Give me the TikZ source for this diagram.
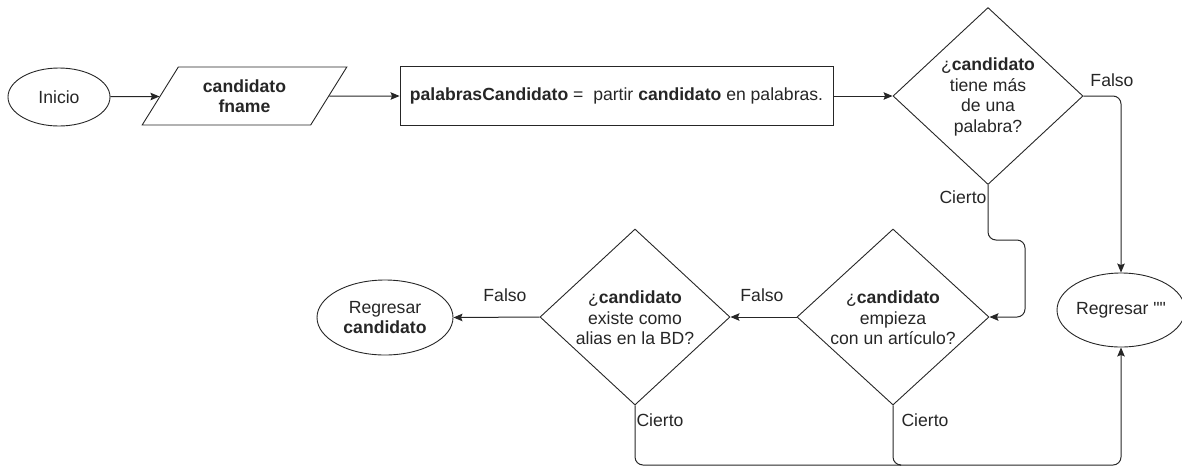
\documentclass[tikz,border=0pt]{standalone}
\usepackage{fontspec}
\setmainfont{Liberation Sans}
\newfontfamily\qfont{Liberation Sans}[Ligatures=TeXOff]
\usetikzlibrary{shapes.geometric,arrows.meta}
\tikzset{
  base/.style={draw=black!85, line width=0.9pt, inner sep=0pt, font=\fontsize{17.6}{20.5}\selectfont, text=black!85},
  term/.style={base, ellipse},
  iobox/.style={base, trapezium, trapezium left angle=55, trapezium right angle=125, trapezium stretches=true},
  procbox/.style={base, rectangle},
  decision/.style={base, diamond},
  arr/.style={draw=black!85, line width=1pt, -{Stealth[length=9pt,width=7.5pt,inset=1.5pt]}},
  lbl/.style={font=\fontsize{17.6}{20}\selectfont, text=black!85, inner sep=0pt},
  inner/.style={align=center, font=\fontsize{17.6}{20.5}\selectfont, text=black!85, inner sep=0pt}
}
\begin{document}
\begin{tikzpicture}[x=1pt,y=-1pt]
\useasboundingbox (0,0) rectangle (1182,467);
\node[term, minimum width=102, minimum height=58] (ini) at (59,97) {Inicio};
\node[iobox, minimum width=205, minimum height=58, align=center] (inp) at (244.5,96) {\textbf{candidato}\\[-1pt]\textbf{fname}};
\node[procbox, minimum width=433, minimum height=59] (proc) at (616.5,96) {\textbf{palabrasCandidato} =\ \ partir \textbf{candidato} en palabras.};
\node[decision, minimum width=190, minimum height=177] (d1) at (988,96) {};
\node[inner] (t1) at (988,97) {¿\textbf{candidato}\\tiene más\\de una\\palabra?};
\node[decision, minimum width=192, minimum height=176] (d2) at (893,317) {};
\node[inner] (t2) at (893,318) {¿\textbf{candidato}\\empieza\\con un artículo?};
\node[decision, minimum width=190, minimum height=176] (d3) at (635,317) {};
\node[inner] (t3) at (635,318) {¿\textbf{candidato}\\existe como\\alias en la BD?};
\node[term, minimum width=128, minimum height=74] (ret) at (1121,310) {Regresar {\qfont ""}};
\node[term, minimum width=136, minimum height=75, align=center] (rc) at (385,317.5) {Regresar\\\textbf{candidato}};

\draw[arr] (ini) -- (inp);
\draw[arr] (inp) -- (proc);
\draw[arr] (proc) -- (d1);
\draw[arr, rounded corners=8pt] (d1.east) -| (ret.north);
\node[lbl] (f1) at (1112,80) {Falso};
\coordinate (c1) at (1025,240);
\draw[arr, rounded corners=8pt] (d1.south) |- (c1) |- (d2.east);
\node[lbl] (v1) at (963,197) {Cierto};
\draw[arr] (d2.west) -- (d3.east);
\node[lbl] (f2) at (762,295) {Falso};
\draw[arr] (d3.west) -- (rc.east);
\node[lbl] (f3) at (505,295) {Falso};
\coordinate (b1) at (900,465);
\draw[arr, rounded corners=8pt] (d3.south) |- (b1) -| (ret.south);
\draw[draw=black!85, line width=1pt, rounded corners=8pt] (d2.south) |- (b1);
\node[lbl] (v3) at (660,420) {Cierto};
\node[lbl] (v2) at (925,420) {Cierto};
\end{tikzpicture}
\end{document}
